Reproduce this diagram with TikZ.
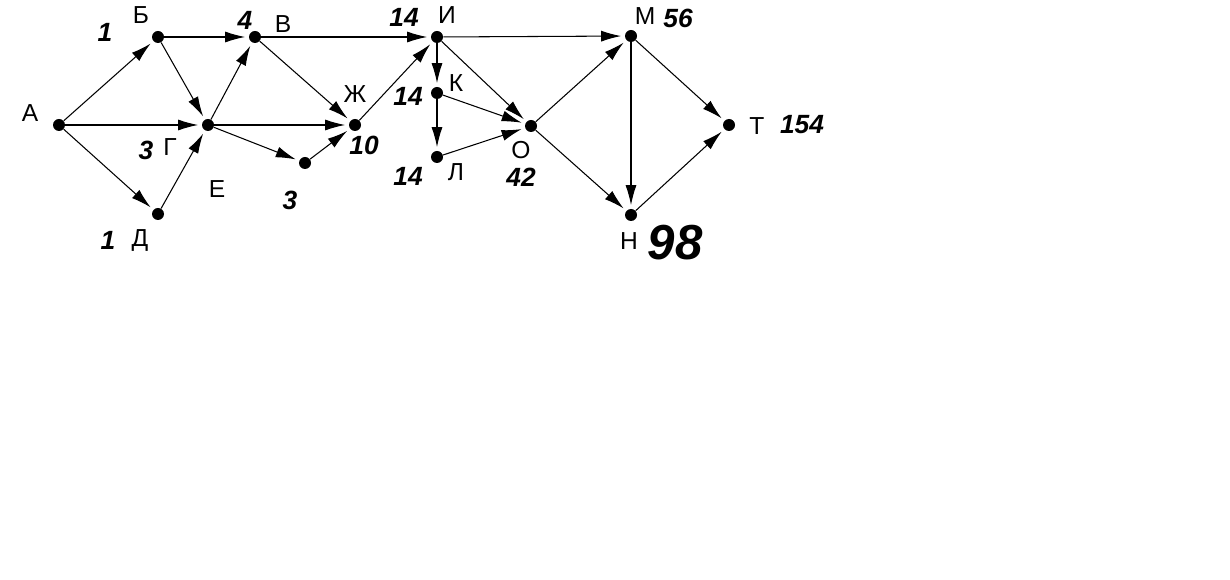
\documentclass[tikz,border=0pt]{standalone}
\usepackage{fontspec}
\setmainfont{Liberation Sans}
\usetikzlibrary{arrows.meta}

\begin{document}
\begin{tikzpicture}[x=0.02cm, y=-0.02cm,
  dot/.style={circle, fill=black, inner sep=0pt, minimum size=0.24cm},
  edge/.style={-{Latex[length=0.4cm,width=0.22cm]}, line width=0.6pt, shorten >=2pt},
  letter/.style={font=\fontsize{14}{16}\selectfont, inner sep=0pt},
  hand/.style={font=\fontsize{15}{17}\selectfont\bfseries\itshape, inner sep=0pt},
]
  \useasboundingbox[fill=white] (0,0) rectangle (1230,580);

  % Vertices
  \node[dot] (a)  at (59,125)  {};
  \node[dot] (b)  at (158,37)  {};
  \node[dot] (v)  at (255,37)  {};
  \node[dot] (g)  at (208,125) {};
  \node[dot] (d)  at (158,214) {};
  \node[dot] (e)  at (305,163) {};
  \node[dot] (zh) at (355,125) {};
  \node[dot] (i)  at (437,37)  {};
  \node[dot] (k)  at (437,93)  {};
  \node[dot] (l)  at (437,157) {};
  \node[dot] (o)  at (531,126) {};
  \node[dot] (m)  at (631,36)  {};
  \node[dot] (n)  at (631,215) {};
  \node[dot] (t)  at (729,125) {};

  % Letters
  \node[letter] (la)  at (30,113)  {А};
  \node[letter] (lb)  at (141,15)  {Б};
  \node[letter] (lv)  at (283,24)  {В};
  \node[letter] (lg)  at (170,147) {Г};
  \node[letter] (ld)  at (140,240) {Д};
  \node[letter] (le)  at (217,189) {Е};
  \node[letter] (lzh) at (355,94)  {Ж};
  \node[letter] (li)  at (447,15)  {И};
  \node[letter] (lk)  at (456,83)  {К};
  \node[letter] (ll)  at (456,172) {Л};
  \node[letter] (lo)  at (521,150) {О};
  \node[letter] (lm)  at (645,16)  {М};
  \node[letter] (ln)  at (629,241) {Н};
  \node[letter] (lt)  at (757,126) {Т};

  % Path counts
  \node[hand] (nb)  at (105,32)  {1};
  \node[hand] (nd)  at (108,240) {1};
  \node[hand] (ng)  at (146,150) {3};
  \node[hand] (nv)  at (245,20)  {4};
  \node[hand] (ne)  at (290,200) {3};
  \node[hand] (nzh) at (364,145) {10};
  \node[hand] (ni)  at (404,17)  {14};
  \node[hand] (nk)  at (408,96)  {14};
  \node[hand] (nl)  at (408,176) {14};
  \node[hand] (no)  at (521,177) {42};
  \node[hand] (nm)  at (678,18)  {56};
  \node[hand, font=\fontsize{28}{30}\selectfont\bfseries\itshape] (nn) at (675,243) {98};
  \node[hand] (nt)  at (802,125) {154};

  % Edges
  \foreach \p/\q in {a/b, a/g, a/d, b/v, b/g, d/g, g/v, g/zh, g/e,
                     v/zh, v/i, e/zh, zh/i, i/k, i/o, i/m, k/l, k/o,
                     l/o, o/m, o/n, m/n, m/t, n/t}
    \draw[edge] (\p) -- (\q);
\end{tikzpicture}
\end{document}
